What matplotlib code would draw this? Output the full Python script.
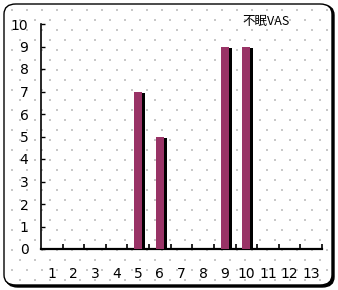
import numpy as np
import matplotlib.pyplot as plt
from matplotlib.patches import FancyBboxPatch

# data
cats = ['1', '2', '3', '4', '5', '6', '7', '8', '9', '10', '11', '12', '13']
vals = [0, 0, 0, 0, 7, 5, 0, 0, 9, 9, 0, 0, 0]
title = '不眠VAS'

W, H = 338, 290
fig = plt.figure(figsize=(W/100, H/100), dpi=100)

# rounded frame with shadow (shadow filled black, frame filled white on top)
shadow = FancyBboxPatch((6/W, 3/H), 328/W, 282/H, boxstyle='round,pad=0,rounding_size=0.035',
                        transform=fig.transFigure, fc='black', ec='black', lw=1.0, zorder=-10)
frame = FancyBboxPatch((4/W, 5/H), 328/W, 281/H, boxstyle='round,pad=0,rounding_size=0.035',
                       transform=fig.transFigure, fc='white', ec='black', lw=1.0, zorder=-9)
fig.patches.extend([shadow, frame])

# dotted background texture
bg = fig.add_axes([0, 0, 1, 1], zorder=-5)
bg.patch.set_alpha(0)
bg.set_xlim(0, W); bg.set_ylim(H, 0); bg.axis('off')
gx, gy = [], []
for j, yy in enumerate(np.arange(10, H-8, 10)):
    off = 7.5 if j % 2 else 0
    for xx in np.arange(12+off, W-10, 15):
        gx.append(xx); gy.append(yy)
bg.scatter(gx, gy, s=0.6, c='#c8c8c8', marker='s', linewidths=0)

ax = fig.add_axes([41/W, 1-249/H, 281/W, 225/H])
ax.patch.set_alpha(0)
x = np.arange(len(cats))
w = 0.37
# shadow bars, then main bars
ax.bar(x + 0.14, np.array(vals) - 0.08, width=w, color='black', zorder=2)
ax.bar(x, vals, width=w, color='#993366', zorder=3)

ax.set_xlim(-0.5, len(cats) - 0.5)
ax.set_ylim(0, 10)
for s in ['top', 'right']:
    ax.spines[s].set_visible(False)
ax.spines['left'].set_linewidth(1.2)
ax.spines['bottom'].set_linewidth(1.6)

ax.set_yticks(range(0, 11))
ax.tick_params(axis='y', direction='in', length=3, width=1, pad=9, labelsize=10)
ax.set_xticks(x)
ax.set_xticklabels(cats)
ax.tick_params(axis='x', length=0, pad=13, labelsize=10)
ax.set_xticks(np.arange(0.5, len(cats)), minor=True)
ax.tick_params(axis='x', which='minor', direction='in', length=3.5, width=1.2)

fig.text(266/W, 1-22/H, title, ha='center', va='center', fontsize=9,
         family=['Noto Sans CJK JP', 'DejaVu Sans'])

fig.savefig('out.png', dpi=100)
